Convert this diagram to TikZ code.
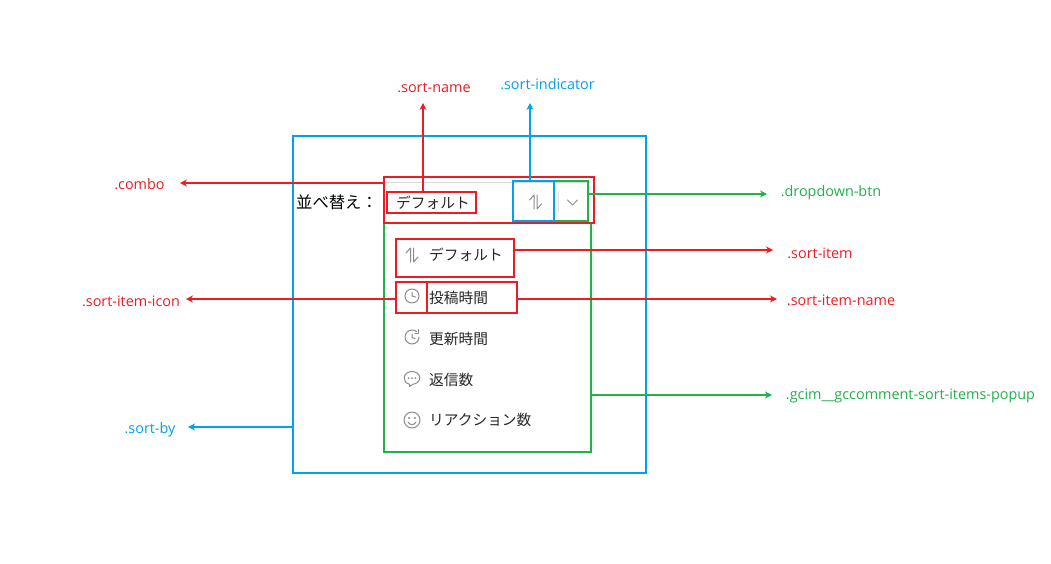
\documentclass[tikz,border=0pt]{standalone}
\usepackage{fontspec}
\setmainfont{Open Sans}
\newfontfamily\cjk{Noto Sans CJK JP}
\usetikzlibrary{arrows.meta}
\definecolor{cred}{HTML}{ED1C24}
\definecolor{cblue}{HTML}{00A2E8}
\definecolor{cgreen}{HTML}{22B14C}
\definecolor{cicon}{HTML}{8C8C8C}
\tikzset{
  x=1pt,y=-1pt,
  frame/.style={draw=#1,line width=2.2pt,inner sep=0pt,outer sep=0pt,anchor=north west},
  conn/.style={draw=#1,line width=1.8pt,-{Stealth[length=7pt,width=7pt]}},
  lbl/.style={text=#1,inner sep=0pt,font=\fontsize{14.4}{16}\selectfont},
  jp/.style={inner sep=0pt,anchor=base west,text=#1,font=\cjk\fontsize{14.7}{16}\selectfont},
  jp/.default=black!85,
  ico/.style={draw=cicon,line width=1pt,line cap=round,line join=round},
  pics/updown/.style={code={
    \draw[ico] (-1.5,7) -- (-1.5,-7) -- (-6,-2);
    \draw[ico] (1.5,-7) -- (1.5,7) -- (6,2);
  }},
  pics/clock/.style={code={
    \draw[ico] (0,0) circle[radius=7];
    \draw[ico] (0,-4) -- (0,0) -- (3.5,1);
  }},
  pics/history/.style={code={
    \draw[ico] (7,0) arc[start angle=0,end angle=310,radius=7];
    \draw[ico] (6.5,-7.5) -- (6.5,-3.5) -- (2.8,-3.5);
    \draw[ico] (0,-3) -- (0,0.5) -- (3,1.5);
  }},
  pics/chat/.style={code={
    \draw[ico] (-2.5,6.2) .. controls (-6,5.5) and (-7.8,3) .. (-7.8,0)
      .. controls (-7.8,-4) and (-4,-6.5) .. (0,-6.5)
      .. controls (4,-6.5) and (7.8,-4) .. (7.8,0)
      .. controls (7.8,3.5) and (4,6) .. (1,6.2)
      -- (-2.5,8.5) -- cycle;
    \fill[cicon] (-3.5,0) circle[radius=1] (0,0) circle[radius=1] (3.5,0) circle[radius=1];
  }},
  pics/smile/.style={code={
    \draw[ico] (0,0) circle[radius=8];
    \fill[cicon] (-3,-2) circle[radius=1.1] (3,-2) circle[radius=1.1];
    \draw[ico] (-4,2) .. controls (-2,5.5) and (2,5.5) .. (4,2);
  }},
}
\begin{document}
\begin{tikzpicture}
\useasboundingbox[fill=white] (0,0) rectangle (1051,563);

% combo surface
\draw[draw=black!15,line width=1pt] (385,182) -- (590,182);
\draw[draw=black!10,line width=1pt] (558,190) -- (558,212);
\draw[draw=black!6,line width=2pt] (593,224) -- (593,450);

% texts of the widget
\node[jp=black,font=\cjk\fontsize{16.3}{18}\selectfont] (title) at (296,208) {並べ替え：};
\node[jp] (combotext) at (396,208) {デフォルト};
\node[jp] (t1) at (429,260) {デフォルト};
\node[jp] (t2) at (429,303) {投稿時間};
\node[jp] (t3) at (429,344) {更新時間};
\node[jp] (t4) at (429,385) {返信数};
\node[jp] (t5) at (429,425) {リアクション数};

% icons
\pic at (535.5,202) {updown};
\draw[ico] (567.5,200) -- (572.5,205) -- (577.5,200);
\pic at (412,255) {updown};
\pic at (412,296) {clock};
\pic at (412,337) {history};
\pic at (412,378) {chat};
\pic at (412,420) {smile};

% frames
\node[frame=cblue,minimum width=353pt,minimum height=337pt] (sortby) at (293,136) {};
\node[frame=cgreen,minimum width=207pt,minimum height=229pt] (popup) at (384,223) {};
\node[frame=cgreen,minimum width=34pt,minimum height=40pt] (dropdown) at (554,181) {};
\node[frame=cblue,minimum width=41pt,minimum height=40pt] (indicator) at (513,181) {};
\node[frame=cred,minimum width=210pt,minimum height=46pt] (combo) at (384,177) {};
\node[frame=cred,minimum width=89pt,minimum height=21pt] (sortname) at (387,192) {};
\node[frame=cred,minimum width=118pt,minimum height=38pt] (sortitem) at (396,239) {};
\node[frame=cred,minimum width=31pt,minimum height=31pt] (itemicon) at (396,282) {};
\node[frame=cred,minimum width=90pt,minimum height=31pt] (itemname) at (427,282) {};

% arrow ends
\coordinate (e1) at (180,183);
\coordinate (e2) at (423,103);
\coordinate (e3) at (530,103);
\coordinate (e4) at (767,194);
\coordinate (e5) at (773,250);
\coordinate (e6) at (777,299);
\coordinate (e7) at (186,299);
\coordinate (e8) at (772,395);
\coordinate (e9) at (188,427);

\draw[conn=cred] (combo.west |- e1) -- (e1);
\draw[conn=cred] (sortname.north -| e2) -- (e2);
\draw[conn=cblue] (indicator.north -| e3) -- (e3);
\draw[conn=cgreen] (dropdown.east |- e4) -- (e4);
\draw[conn=cred] (sortitem.east |- e5) -- (e5);
\draw[conn=cred] (itemname.east |- e6) -- (e6);
\draw[conn=cred] (itemicon.west |- e7) -- (e7);
\draw[conn=cgreen] (popup.east |- e8) -- (e8);
\draw[conn=cblue] (sortby.west |- e9) -- (e9);

% labels
\node[lbl=cred] (l1) at (139.5,184.5) {.combo};
\node[lbl=cred] (l2) at (434,88) {.sort-name};
\node[lbl=cblue] (l3) at (547.5,84.5) {.sort-indicator};
\node[lbl=cgreen] (l4) at (831,193) {.dropdown-btn};
\node[lbl=cred] (l5) at (820,253.5) {.sort-item};
\node[lbl=cred] (l6) at (841,300) {.sort-item-name};
\node[lbl=cred] (l7) at (131,301) {.sort-item-icon};
\node[lbl=cgreen] (l8) at (910.5,396) {.gcim\_\_gccomment-sort-items-popup};
\node[lbl=cblue] (l9) at (150,430) {.sort-by};
\end{tikzpicture}
\end{document}
